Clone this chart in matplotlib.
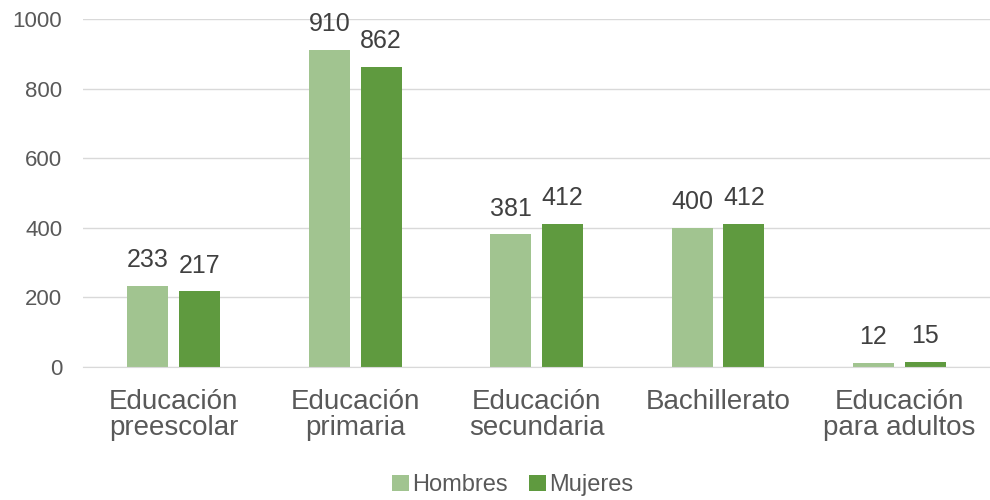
import matplotlib.pyplot as plt
import numpy as np

categories = ['Educación\npreescolar', 'Educación\nprimaria', 'Educación\nsecundaria',
              'Bachillerato', 'Educación\npara adultos']
hombres = [233, 910, 381, 400, 12]
mujeres = [217, 862, 412, 412, 15]

plt.rcParams['font.family'] = ['Liberation Sans', 'DejaVu Sans']
txt = '#595959'

fig = plt.figure(figsize=(9.9, 5.0), dpi=100)
ax = fig.add_axes([0.084, 0.266, 0.916, 0.696])

x = np.arange(len(categories))
w = 0.226
off = 0.143
b1 = ax.bar(x - off, hombres, w, color='#A1C490', label='Hombres', zorder=2)
b2 = ax.bar(x + off, mujeres, w, color='#5F9A3F', label='Mujeres', zorder=2)
for bars in (b1, b2):
    ax.bar_label(bars, padding=10, fontsize=18, color='#404040', zorder=3)

ax.set_xlim(-0.5, len(categories) - 0.5)
ax.set_ylim(0, 1000)
ax.set_yticks(range(0, 1001, 200))
ax.grid(axis='y', color='#d9d9d9', linewidth=1, zorder=0)
ax.set_xticks(x)
ax.set_xticklabels(categories, fontsize=20, color=txt, linespacing=1.0)
ax.tick_params(axis='y', labelsize=16, labelcolor=txt, length=0, pad=15)
ax.tick_params(axis='x', length=0, pad=16)
for s in ['top', 'right', 'left']:
    ax.spines[s].set_visible(False)
ax.spines['bottom'].set_color('#d9d9d9')

fig.legend(loc='lower center', bbox_to_anchor=(0.518, -0.035), ncol=2, frameon=False,
           fontsize=17, labelcolor=txt, handlelength=0.7, handleheight=0.7,
           handletextpad=0.15, columnspacing=0.9)

fig.savefig('out.png')
